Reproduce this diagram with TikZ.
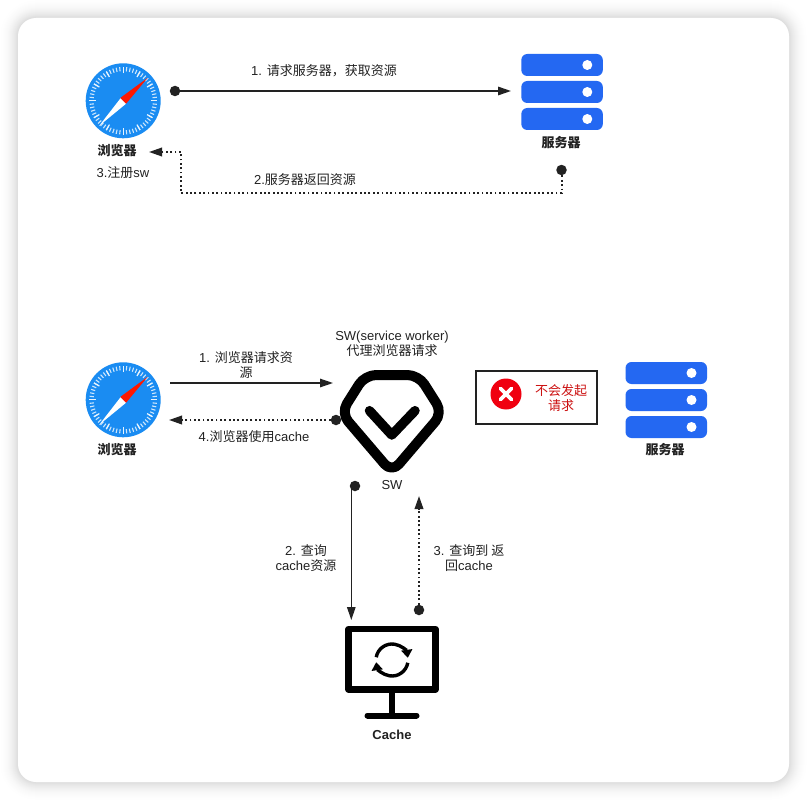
\documentclass[tikz,border=0pt]{standalone}
\usepackage{fontspec}
\setmainfont{Liberation Sans}
\newfontfamily\cjk{Noto Sans CJK SC}
\usetikzlibrary{arrows.meta}
\definecolor{ink}{HTML}{222222}
\definecolor{srvblue}{HTML}{2468F2}
\definecolor{safblue}{HTML}{1A8CF2}
\definecolor{errred}{HTML}{F00010}
\definecolor{txtred}{HTML}{CC1111}
\tikzset{
  lbl/.style={font=\fontsize{13}{15}\selectfont, text=ink, align=center, inner sep=0pt},
  boldlbl/.style={font=\fontsize{13}{15}\selectfont\bfseries, text=ink, align=center, inner sep=0pt},
  dotend/.style={circle, fill=ink, minimum size=10.5pt, inner sep=0pt},
  conn/.style={draw=ink, line width=1.5pt, -{Triangle[length=13pt,width=8.5pt]}},
  thinconn/.style={draw=ink, line width=1.3pt, -{Triangle[length=13pt,width=8.5pt]}},
  dotconn/.style={draw=ink, line width=2pt, dash pattern=on 1.8pt off 2.55pt, -{Triangle[length=13pt,width=8.5pt]}},
  pics/safari/.style={code={
    \fill[safblue] (0,0) circle[radius=37.5pt];
    \foreach \a in {0,6,...,354}{
      \draw[white!78!safblue, line width=1.1pt] (\a:29.5pt) -- (\a:33.8pt);
    }
    \foreach \a in {0,30,...,330}{
      \draw[white!90!safblue, line width=1.2pt] (\a:27.5pt) -- (\a:33.8pt);
    }
    \fill[white] (-2.6pt,2.6pt) -- (-24pt,-25pt) -- (2.9pt,-2.9pt) -- cycle;
    \fill[red!82!orange] (-2.9pt,2.9pt) -- (24.5pt,23pt) -- (2.9pt,-2.9pt) -- cycle;
  }},
  pics/server/.style={code={
    \foreach \y in {0,27,54}{
      \fill[srvblue, rounded corners=6pt] (0,-\y pt) rectangle (81.5pt,-\y pt-22pt);
      \fill[white] (66pt,-\y pt-11pt) circle[radius=5pt];
    }
  }}
}
\begin{document}
\begin{tikzpicture}[x=1pt,y=-1pt]
\useasboundingbox (0,0) rectangle (807,800);
\fill[white] (0,0) rectangle (807,800);
% soft card shadow
\foreach \e in {18,17,...,1}{
  \pgfmathsetmacro{\dk}{14*(1-\e/19)*(1-\e/19)}
  \fill[black!\dk!white, rounded corners=18pt+\e pt] (18-\e,18-\e) rectangle (789+\e,782+\e);
}
\fill[white, rounded corners=18pt] (18,18) rectangle (789,782);

% icons
\pic at (123.2,100.8) {safari};
\pic at (123.2,399.8) {safari};
\pic at (521.3,54) {server};
\pic at (625.5,362) {server};

% SW icon
\draw[black, line width=10pt, line join=round, rounded corners=11pt]
  (365,375) -- (418.5,375) -- (442.5,413) -- (391.8,472.5) -- (341,413) -- cycle;
\draw[black, line width=9.5pt, line cap=round, line join=round]
  (369.5,410.7) -- (391.8,435) -- (415,410.7);

% Cache icon
\draw[black, line width=6.5pt, line join=round] (348.7,629) rectangle (435.3,689.5);
\draw[black, line width=6pt] (392,692) -- (392,715);
\draw[black, line width=6pt, line cap=round] (367.5,715.5) -- (416.5,715.5);
\begin{scope}[shift={(392,660)}, x=1pt, y=1pt]
  \draw[black, line width=3.4pt, -{Triangle[length=8pt,width=11pt]}] (170:16pt) arc[start angle=170, end angle=8, radius=16pt];
  \draw[black, line width=3.4pt, -{Triangle[length=8pt,width=11pt]}] (350:16pt) arc[start angle=350, end angle=188, radius=16pt];
\end{scope}

% error box
\node[draw=ink, line width=1.6pt, minimum width=120.5pt, minimum height=52.5pt, inner sep=0pt] (errbox) at (536.5,397.5) {};
\node[circle, fill=errred, minimum size=31pt, inner sep=0pt] (errdot) at (506,394) {};
\draw[white, line width=3.8pt, line cap=round] (500.5,388.5) -- (511.5,399.5) (500.5,399.5) -- (511.5,388.5);
\node[lbl, text=txtred] (errtxt) at (561,398) {\cjk 不会发起\\\cjk 请求};

% labels
\node[boldlbl] (b1) at (117,151) {\cjk\bfseries 浏览器};
\node[lbl] (reg) at (123,172.5) {3.{\cjk 注册}sw};
\node[boldlbl] (s1) at (561,143) {\cjk\bfseries 服务器};
\node[lbl] (t1) at (324,70.5) {1. {\cjk 请求服务器，获取资源}};
\node[lbl] (t2) at (305,179.5) {2.{\cjk 服务器返回资源}};
\node[boldlbl] (b2) at (117,450) {\cjk\bfseries 浏览器};
\node[boldlbl] (s2) at (665,450) {\cjk\bfseries 服务器};
\node[lbl] (swt) at (392,343.5) {SW(service worker)\\{\cjk 代理浏览器请求}};
\node[lbl] (swn) at (392,485.5) {SW};
\node[lbl] (t3) at (246,365.5) {1. {\cjk 浏览器请求资}\\{\cjk 源}};
\node[lbl] (t4) at (254,437) {4.{\cjk 浏览器使用}cache};
\node[lbl] (t5) at (306,558) {2. {\cjk 查询}\\cache{\cjk 资源}};
\node[lbl] (t6) at (469,558) {3. {\cjk 查询到 返}\\{\cjk 回}cache};
\node[boldlbl] (cachel) at (392,734.5) {Cache};

% connector ends
\node[dotend] (d1) at (175,91) {};
\coordinate (e1) at (511,91);
\node[dotend] (d2) at (561.5,170) {};
\coordinate (e2) at (149,152);
\coordinate (s3) at (170,383);
\coordinate (e3) at (333,383);
\node[dotend] (d4) at (336,420) {};
\coordinate (e4) at (169,420);
\node[dotend] (d5) at (355,486) {};
\coordinate (s5) at (351.3,488);
\coordinate (e5) at (351.3,620);
\node[dotend] (d6) at (419,610) {};
\coordinate (e6) at (419,496);

% connectors
\draw[conn] (d1) -- (e1);
\draw[dotconn] (d2) -- (561.5,193) -- (181,193) -- (181,152) -- (e2);
\draw[thinconn] (s3) -- (e3);
\draw[dotconn] (d4) -- (e4);
\draw[thinconn] (s5) -- (e5);
\draw[dotconn] (d6) -- (e6);
\end{tikzpicture}
\end{document}
